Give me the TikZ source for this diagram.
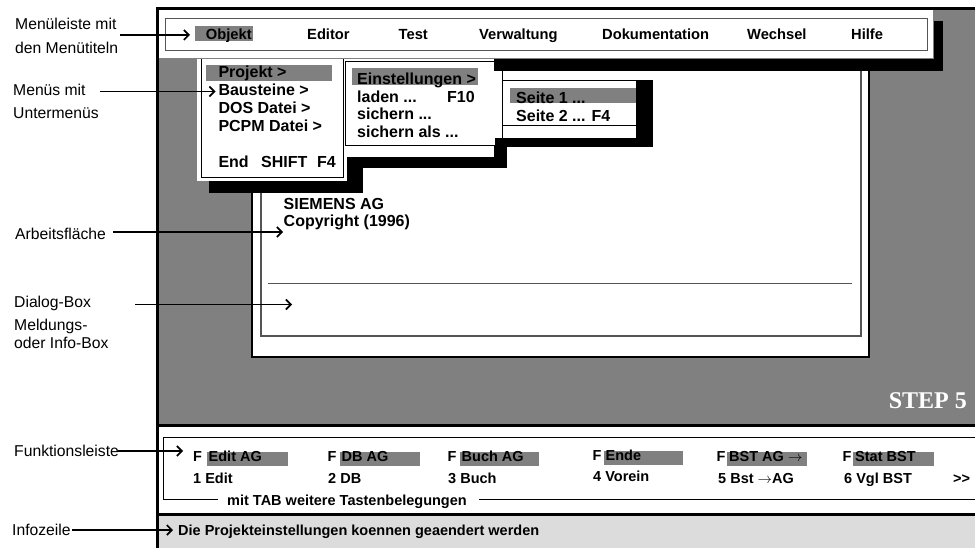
\documentclass[tikz,border=0pt]{standalone}
\usepackage{fontspec}
\setmainfont{Liberation Sans}
\newfontfamily\stepfont{Liberation Serif}
\usetikzlibrary{arrows.meta}
\definecolor{scr}{HTML}{808080}
\definecolor{infobg}{HTML}{DCDCDC}
\definecolor{frm}{HTML}{555555}
\begin{document}
\begin{tikzpicture}[x=1pt,y=-1pt,
  lbl/.style={anchor=base west,inner sep=0pt,font=\fontsize{15.7}{18}\selectfont},
  bar/.style={anchor=base west,inner sep=0pt,font=\bfseries\fontsize{14.7}{17}\selectfont},
  itm/.style={anchor=base west,inner sep=0pt,font=\bfseries\fontsize{16}{18}\selectfont},
  fk/.style={anchor=base west,inner sep=0pt,font=\bfseries\fontsize{14.5}{17}\selectfont},
  hl/.style={fill=scr,draw=none},
  shade/.style={fill=black,draw=none},
  menubox/.style={fill=white,draw=black,line width=1pt},
  pointer/.style={line width=1.6pt,-{Straight Barb[length=5pt,width=10pt,line width=1.6pt]}}
]
\useasboundingbox (0,0) rectangle (975,548);
% screen regions
\fill[scr] (157,9) rectangle (975,425);
\fill[white] (157,425) rectangle (975,514);
\fill[infobg] (157,514) rectangle (975,548);
% work area
\draw[fill=white,draw=black,line width=1.2pt] (252,53) rectangle (869,357);
\draw[draw=frm,line width=1.5pt] (261,62) rectangle (861,336);
\draw[draw=frm,line width=1pt] (268,284) -- (852,284);
\node[itm] (siemens) at (283.5,209.5) {SIEMENS AG};
\node[itm] (copy) at (283.5,227) {Copyright (1996)};
% menu 1
\fill[shade] (209,180) rectangle (363,193);
\fill[shade] (343,157) rectangle (363,193);
\fill[white] (197,58) rectangle (347,181);
\draw[menubox] (201,59) rectangle (343,178);
\fill[hl] (206,65) rectangle (332,81);
\node[itm] (m1a) at (218.3,78) {Projekt >};
\node[itm] (m1b) at (218.3,95.7) {Bausteine >};
\node[itm] (m1c) at (218.3,113.4) {DOS Datei >};
\node[itm] (m1d) at (218.3,131.1) {PCPM Datei >};
\node[itm] (m1e) at (218.3,167.5) {End};
\node[itm] (m1f) at (261,167.5) {SHIFT};
\node[itm] (m1g) at (317,167.5) {F4};
% menu 2
\fill[shade] (352,157) rectangle (507,168);
\fill[shade] (494,138) rectangle (507,168);
\draw[menubox] (345,62) rectangle (502,146);
\fill[hl] (352,68) rectangle (478,85);
\node[itm] (m2a) at (357,84.3) {Einstellungen >};
\node[itm] (m2b) at (357,102.2) {laden ...};
\node[itm] (m2c) at (447,102.2) {F10};
\node[itm] (m2d) at (357,119.8) {sichern ...};
\node[itm] (m2e) at (357,137.3) {sichern als ...};
% menu 3
\fill[shade] (636,80) rectangle (653,147);
\fill[shade] (495,138) rectangle (653,147);
\draw[menubox] (502,81) rectangle (636,126);
\fill[hl] (510,88) rectangle (636,103);
\node[itm] (m3a) at (516,103.3) {Seite 1 ...};
\node[itm] (m3b) at (516,121.3) {Seite 2 ... F4};
% menu bar
\fill[shade] (933,21) rectangle (943,71);
\fill[shade] (494,58) rectangle (943,71);
\draw[fill=white,draw=gray,line width=0.8pt] (157,9) rectangle (933,58);
\draw[draw=frm,line width=1pt] (165,19) rectangle (927,51);
\fill[hl] (195,26) rectangle (253,41);
\node[bar] (obj) at (205.7,39.7) {Objekt};
\node[bar] (edi) at (307,39.7) {Editor};
\node[bar] (tst) at (398.5,39.7) {Test};
\node[bar] (vrw) at (479,39.7) {Verwaltung};
\node[bar] (dok) at (602,39.7) {Dokumentation};
\node[bar] (wch) at (747,39.7) {Wechsel};
\node[bar] (hlf) at (851,39.7) {Hilfe};
% STEP 5
\node[anchor=base east,inner sep=0pt,text=white,font=\stepfont\bfseries\fontsize{24}{28}\selectfont] (step) at (967,408.3) {STEP 5};
% function bar
\draw[line width=1.5pt] (980,437.3) -- (163.3,437.3) -- (163.3,499.5) -- (218,499.5);
\draw[line width=1.5pt] (479,499.5) -- (980,499.5);
\fill[hl] (207,452) rectangle (288,466);
\fill[hl] (340,452) rectangle (420,466);
\fill[hl] (460,452) rectangle (539,466);
\fill[hl] (604,450.5) rectangle (683,464.5);
\fill[hl] (727,452) rectangle (807,466);
\fill[hl] (853,452) rectangle (934,466);
\node[fk] (f1) at (193,461.7) {F};
\node[fk] (f1t) at (208.5,461.7) {Edit AG};
\node[fk] (k1) at (193,483.3) {1 Edit};
\node[fk] (f2) at (327.5,461.7) {F};
\node[fk] (f2t) at (341.5,461.7) {DB AG};
\node[fk] (k2) at (328,483.3) {2 DB};
\node[fk] (f3) at (447.5,461.7) {F};
\node[fk] (f3t) at (461.5,461.7) {Buch AG};
\node[fk] (k3) at (448,483.3) {3 Buch};
\node[fk] (f4) at (592.5,460) {F};
\node[fk] (f4t) at (605.5,460) {Ende};
\node[fk] (k4) at (593,481.7) {4 Vorein};
\node[fk] (f5) at (716.5,461.7) {F};
\node[fk] (f5t) at (729,461.7) {BST AG $\rightarrow$};
\node[fk] (k5) at (718,483.3) {5 Bst $\rightarrow$AG};
\node[fk] (f6) at (842.5,461.7) {F};
\node[fk] (f6t) at (855,461.7) {Stat BST};
\node[fk] (k6) at (844,483.3) {6 Vgl BST};
\node[fk] (more) at (953,483.3) {{>}{>}};
\node[fk] (tab) at (227,505) {mit TAB weitere Tastenbelegungen};
\node[fk] (info) at (178,535) {Die Projekteinstellungen koennen geaendert werden};
% screen border
\draw[line width=3pt] (975,9) -- (157,9) -- (157,548);
\draw[line width=3pt] (157,425) -- (975,425);
\draw[line width=3pt] (157,514.5) -- (975,514.5);
% labels
\node[lbl] (l1a) at (15,30) {Menüleiste mit};
\node[lbl] (l1b) at (15,53.3) {den Menütiteln};
\node[lbl] (l2a) at (13,95.7) {Menüs mit};
\node[lbl] (l2b) at (13,118.3) {Untermenüs};
\node[lbl] (l3) at (15,240) {Arbeitsfläche};
\node[lbl] (l4) at (14,307.7) {Dialog-Box};
\node[lbl] (l5a) at (14,330.3) {Meldungs-};
\node[lbl] (l5b) at (14,348.3) {oder Info-Box};
\node[lbl] (l6) at (14,456) {Funktionsleiste};
\node[lbl] (l7) at (12,535) {Infozeile};
% pointer arrows
\coordinate (p1s) at (120,35); \coordinate (p1e) at (190,35);
\coordinate (p2s) at (100,91.5); \coordinate (p2e) at (215.5,91.5);
\coordinate (p3s) at (113,232); \coordinate (p3e) at (283,232);
\coordinate (p4s) at (135,304.5); \coordinate (p4e) at (292,304.5);
\coordinate (p6s) at (118,451); \coordinate (p6e) at (183,451);
\coordinate (p7s) at (72,530); \coordinate (p7e) at (173,530);
\draw[pointer] (p1s) -- (p1e);
\draw[pointer] (p2s) -- (p2e);
\draw[pointer] (p3s) -- (p3e);
\draw[pointer] (p4s) -- (p4e);
\draw[pointer] (p6s) -- (p6e);
\draw[pointer] (p7s) -- (p7e);
\end{tikzpicture}
\end{document}
